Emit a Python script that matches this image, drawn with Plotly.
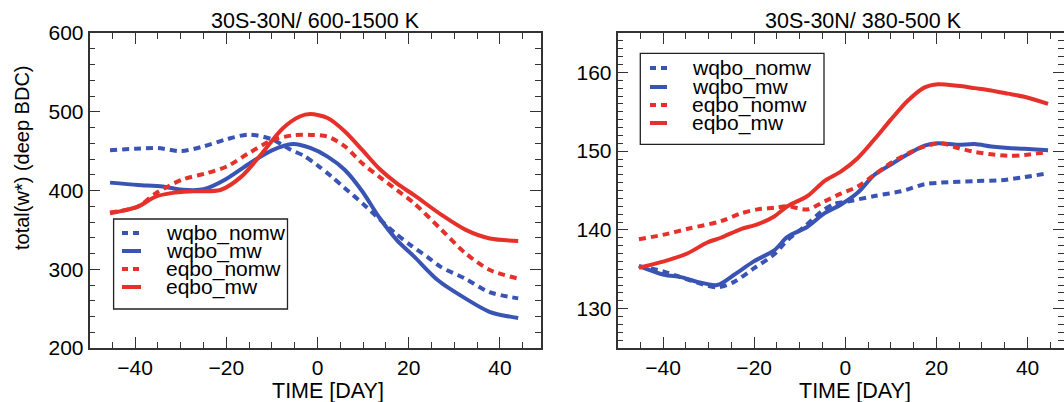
import plotly.graph_objects as go

W, H = 1064, 402

names = ["wqbo_nomw", "wqbo_mw", "eqbo_nomw", "eqbo_mw"]
blue = "#3a54b4"
red = "#e6312a"
colors = [blue, blue, red, red]
dashes = ["7px,5px", "solid", "7px,5px", "solid"]

# ---- Left panel: 30S-30N / 600-1500 K ----
L_wn_x = [-45.5, -40, -35, -30, -25, -20, -15, -10, -6, -3, 0, 3, 6, 10, 13.5, 17, 20.3, 24, 27, 32.4, 37.7, 44]
L_wn_y = [451, 453, 454, 450, 456, 465, 471, 465, 452, 444, 432, 418, 403, 383, 364, 346, 331, 316, 303, 288, 271, 263]

L_wm_x = [-45.5, -39.4, -34, -29.6, -25, -20.5, -15, -10, -5.4, -1.6, 2.2, 6, 9.8, 13.5, 17.4, 21.2, 26.4, 32.4, 37.7, 44]
L_wm_y = [410, 407, 405, 401, 401.5, 413, 434, 451, 459, 454, 443, 426, 399, 366, 337, 316, 286, 263, 246, 238]

L_en_x = [-45.5, -39.4, -35.6, -29.6, -24.3, -19.7, -15.2, -9.9, -5.4, -1.6, 2.2, 6, 9.8, 13.5, 17.4, 21.2, 27.2, 32.5, 37.8, 44]
L_en_y = [372, 379.5, 396, 414, 422, 431, 447, 464, 470, 470.6, 468.5, 456, 434.5, 417.6, 400.6, 383.7, 350, 320, 299, 288]

L_em_x = [-45.5, -39.4, -35.6, -31.8, -27.3, -21.3, -16.7, -12.2, -7.6, -3.9, -1.6, 2.2, 6, 9.8, 13.5, 17.4, 21.2, 27.2, 32.5, 37.8, 44]
L_em_y = [371, 379.5, 392, 397, 399, 400.6, 417.6, 447, 479, 494, 497, 492, 475, 451.5, 428, 409, 394, 369, 350, 339, 336]

# ---- Right panel: 30S-30N / 380-500 K ----
R_wn_x = [-45.3, -39.8, -34.1, -28.1, -24.4, -20.1, -15.6, -12.7, -9, -5.3, -2.4, 0.5, 6.4, 12.2, 17.4, 21, 28.4, 34.2, 39.3, 44.5]
R_wn_y = [135.4, 134.7, 133.6, 132.7, 133.4, 135.1, 136.9, 138.7, 140.4, 142.3, 143.3, 143.6, 144.3, 144.9, 145.8, 146, 146.2, 146.3, 146.7, 147.2]

R_wm_x = [-45.3, -39.8, -36.1, -32.5, -28.1, -24.4, -20.1, -15.6, -12.7, -8.3, -4.6, -1, 2.7, 6.4, 10, 13.7, 17.4, 20.3, 24.7, 28.4, 32, 35.7, 39.3, 44.5]
R_wm_y = [135.4, 134.3, 134, 133.4, 133, 134.3, 136, 137.4, 139.1, 140.4, 142.1, 143.2, 144.7, 147, 148.3, 149.6, 150.7, 151, 150.8, 150.9, 150.6, 150.4, 150.3, 150.1]

R_en_x = [-45.3, -39.8, -34.1, -27.3, -22.9, -19.3, -15.6, -12.7, -8.3, -4.6, -1, 2.7, 6.4, 10, 13.7, 17.4, 21, 24.7, 28.4, 32, 35.7, 39.3, 44.5]
R_en_y = [138.8, 139.4, 140.2, 141.1, 142.1, 142.6, 142.8, 143, 142.6, 143.6, 144.6, 145.5, 147, 148.5, 149.7, 150.6, 151, 150.4, 149.9, 149.6, 149.4, 149.5, 149.9]

R_em_x = [-45.3, -39.8, -34.7, -30.3, -27.3, -22.9, -19.3, -15.6, -12.7, -8.3, -4.6, -1, 2.7, 6.4, 10, 13.7, 17.4, 20.3, 24.7, 28.4, 32, 35.7, 39.3, 44.5]
R_em_y = [135.2, 136, 137, 138.4, 139, 140.1, 140.7, 141.7, 143, 144.3, 146.2, 147.4, 149.1, 151.5, 154, 156.4, 158.1, 158.5, 158.3, 158, 157.7, 157.3, 156.9, 156]

left_series = [(L_wn_x, L_wn_y), (L_wm_x, L_wm_y), (L_en_x, L_en_y), (L_em_x, L_em_y)]
right_series = [(R_wn_x, R_wn_y), (R_wm_x, R_wm_y), (R_en_x, R_en_y), (R_em_x, R_em_y)]

titles = ["30S-30N/ 600-1500 K", "30S-30N/ 380-500 K"]
xlabel = "TIME [DAY]"
ylabel = "total(w*) (deep BDC)"

FONT = "Liberation Sans, Arial, Helvetica, sans-serif"

fig = go.Figure()
for i, (xs, ys) in enumerate(left_series):
    fig.add_trace(go.Scatter(x=xs, y=ys, mode="lines", name=names[i], showlegend=False,
                             line=dict(color=colors[i], width=4, dash=dashes[i], shape="spline", smoothing=0.8),
                             xaxis="x", yaxis="y"))
for i, (xs, ys) in enumerate(right_series):
    fig.add_trace(go.Scatter(x=xs, y=ys, mode="lines", name=names[i], showlegend=False,
                             line=dict(color=colors[i], width=4, dash=dashes[i], shape="spline", smoothing=0.8),
                             xaxis="x2", yaxis="y2"))

def px(x):
    return x / W

def py(y):
    return 1 - y / H

axcol = "#333333"
common = dict(showline=True, linecolor=axcol, linewidth=1.5, mirror="ticks", ticks="inside",
              ticklen=11, tickwidth=1.3, tickcolor=axcol, showgrid=False, zeroline=False,
              automargin=False,
              tickfont=dict(family=FONT, size=21, color="black"))

ydom = [py(348), py(33)]
fig.update_layout(
    width=W, height=H,
    margin=dict(l=0, r=0, t=0, b=0, pad=0, autoexpand=False),
    paper_bgcolor="white", plot_bgcolor="white",
    showlegend=False,
    font=dict(family=FONT, color="black"),
    xaxis=dict(domain=[px(89.5), px(541)], range=[-50, 49], dtick=20, tick0=0,
               minor=dict(dtick=5, ticklen=6, tickwidth=1.3, tickcolor=axcol, ticks="inside"),
               anchor="y", **common),
    yaxis=dict(domain=ydom, range=[200, 600], dtick=100,
               minor=dict(dtick=20, ticklen=6, tickwidth=1.3, tickcolor=axcol, ticks="inside"),
               anchor="x", **common),
    xaxis2=dict(domain=[px(617.5), 1.0], range=[-50, 48], dtick=20, tick0=0,
                minor=dict(dtick=5, ticklen=6, tickwidth=1.3, tickcolor=axcol, ticks="inside"),
                anchor="y2", **common),
    yaxis2=dict(domain=ydom, range=[125, 165], dtick=10,
                minor=dict(dtick=1, ticklen=6, tickwidth=1.3, tickcolor=axcol, ticks="inside"),
                anchor="x2", **common),
)

annotations = []
shapes = []
# panel titles
for cx, t in zip([315, 863], titles):
    annotations.append(dict(x=px(cx), y=py(21), xref="paper", yref="paper", text=t, showarrow=False,
                            xanchor="center", yanchor="middle", font=dict(family=FONT, size=21.5, color="black")))
# x axis titles
for cx in [327.5, 855]:
    annotations.append(dict(x=px(cx), y=py(391), xref="paper", yref="paper", text=xlabel, showarrow=False,
                            xanchor="center", yanchor="middle", font=dict(family=FONT, size=21.5, color="black")))
# y axis title
annotations.append(dict(x=px(22), y=py(158), xref="paper", yref="paper", text=ylabel, showarrow=False,
                        textangle=-90, xanchor="center", yanchor="middle",
                        font=dict(family=FONT, size=20, color="black")))

# legends (box, samples, labels)
legends = [
    dict(box=(113.6, 219, 287.5, 309), s0=122, s1=141, tx=163.6, rows=[233, 251, 269, 287]),
    dict(box=(640.3, 53.3, 824, 144.3), s0=650, s1=667, tx=690.4, rows=[68, 87, 105, 123]),
]
for lg in legends:
    x0, y0, x1, y1 = lg["box"]
    shapes.append(dict(type="rect", xref="paper", yref="paper", x0=px(x0), y0=py(y0), x1=px(x1), y1=py(y1),
                       line=dict(color="#222222", width=1.3), fillcolor="white", layer="above"))
    for i, ry in enumerate(lg["rows"]):
        shapes.append(dict(type="line", xref="paper", yref="paper", x0=px(lg["s0"]), x1=px(lg["s1"]),
                           y0=py(ry), y1=py(ry),
                           line=dict(color=colors[i], width=4, dash=("6px,5px" if dashes[i] != "solid" else "solid")),
                           layer="above"))
        annotations.append(dict(x=px(lg["tx"]), y=py(ry), xref="paper", yref="paper", text=names[i],
                                showarrow=False, xanchor="left", yanchor="middle",
                                font=dict(family=FONT, size=21, color="black")))

fig.update_layout(annotations=annotations, shapes=shapes)
fig.write_html("out.html", config={"displayModeBar": False},
               post_script="document.body.style.margin='0';document.body.style.padding='0';")
